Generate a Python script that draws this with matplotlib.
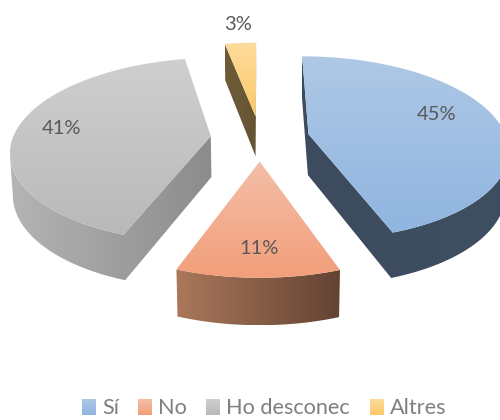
import numpy as np
import matplotlib
matplotlib.use("Agg")
import matplotlib.pyplot as plt
from matplotlib.patches import Polygon
from matplotlib.colors import to_rgb

categories = ["Sí", "No", "Ho desconec", "Altres"]
values = [44.6, 11.0, 41.4, 3.0]

# top face gradient (top colour, bottom colour), wall gradient (left, right)
top_colors = [("#aec8e6", "#90b5df"), ("#f4bea8", "#f29f7a"), ("#cfcfcf", "#b9b9b9"), ("#fedb9c", "#fbc968")]
wall_colors = [("#3c4b5e", "#3f4f62"), ("#ab785b", "#644333"), ("#b4b4b4", "#8c8c8c"), ("#6e5c38", "#655433")]
label_pos = [(437, 115), (259, 249), (62, 129), (238, 25)]
legend_box_x = [82, 138, 206, 370]
legend_text_x = [102, 158, 226, 390]

# projection of the tilted pie, in pixels
cx, cy = 260, 138
rx, ry = 198, 90.7
k = 0.151
explode = 0.25
depth = 41


def project(X, Y):
    f = 1 / (1 + k * Y)
    return cx + X * rx * f, cy - Y * ry * f, f


def lerp(c1, c2, t):
    a, b = np.array(to_rgb(c1)), np.array(to_rgb(c2))
    return tuple(a + (b - a) * t)


def gradient(ax, c1, c2, pts, zorder, vertical=True):
    # fill a polygon with a linear gradient
    poly = Polygon(pts, closed=True, transform=ax.transData, facecolor="none", edgecolor="none")
    ax.add_patch(poly)
    n = 64
    shape = (n, 1, 3) if vertical else (1, n, 3)
    img = np.array([lerp(c1, c2, t) for t in np.linspace(0, 1, n)]).reshape(shape)
    extent = (pts[:, 0].min(), pts[:, 0].max(), pts[:, 1].max(), pts[:, 1].min())
    im = ax.imshow(img, extent=extent, aspect="auto", interpolation="bilinear", zorder=zorder)
    im.set_clip_path(poly)


fig = plt.figure(figsize=(5, 4.2), dpi=100)
ax = fig.add_axes([0, 0, 1, 1])

edges = np.cumsum([0] + values) / sum(values) * 2 * np.pi
for i in range(len(values)):
    a0, a1 = edges[i], edges[i + 1]
    mid = (a0 + a1) / 2
    ang = np.linspace(a0, a1, 120)
    X = np.r_[explode * np.sin(mid), explode * np.sin(mid) + np.sin(ang)]
    Y = np.r_[explode * np.cos(mid), explode * np.cos(mid) + np.cos(ang)]
    px, py, f = project(X, Y)

    # wall: the part of the outline running right to left faces the viewer
    bx = cx + (px - cx) * 0.988
    by = py + depth * f ** 0.7
    n = len(px)
    visible = px[(np.arange(n) + 1) % n] < px
    first = next(j for j in range(n) if visible[j] and not visible[j - 1])
    chain = [first]
    while visible[chain[-1]]:
        chain.append((chain[-1] + 1) % n)
    wall = np.r_[np.c_[px[chain], py[chain]], np.c_[bx[chain], by[chain]][::-1]]
    gradient(ax, wall_colors[i][0], wall_colors[i][1], wall, 2, vertical=False)

    # top face
    gradient(ax, top_colors[i][0], top_colors[i][1], np.c_[px, py], 3)

    ax.text(label_pos[i][0], label_pos[i][1], "%d%%" % round(values[i]), color="#595959",
            fontsize=14.5, family="Lato", ha="center", va="center", zorder=5)

    # legend entry
    x0 = legend_box_x[i]
    box = np.array([(x0, 399), (x0 + 14, 399), (x0 + 14, 415), (x0, 415)], dtype=float)
    gradient(ax, top_colors[i][0], top_colors[i][1], box, 3)
    ax.text(legend_text_x[i], 408, categories[i], color="#7f7f7f", fontsize=15.6, family="Lato",
            ha="left", va="center", zorder=5)

ax.set_xlim(0, 500)
ax.set_ylim(420, 0)
ax.axis("off")
fig.savefig("out.png", dpi=100)
